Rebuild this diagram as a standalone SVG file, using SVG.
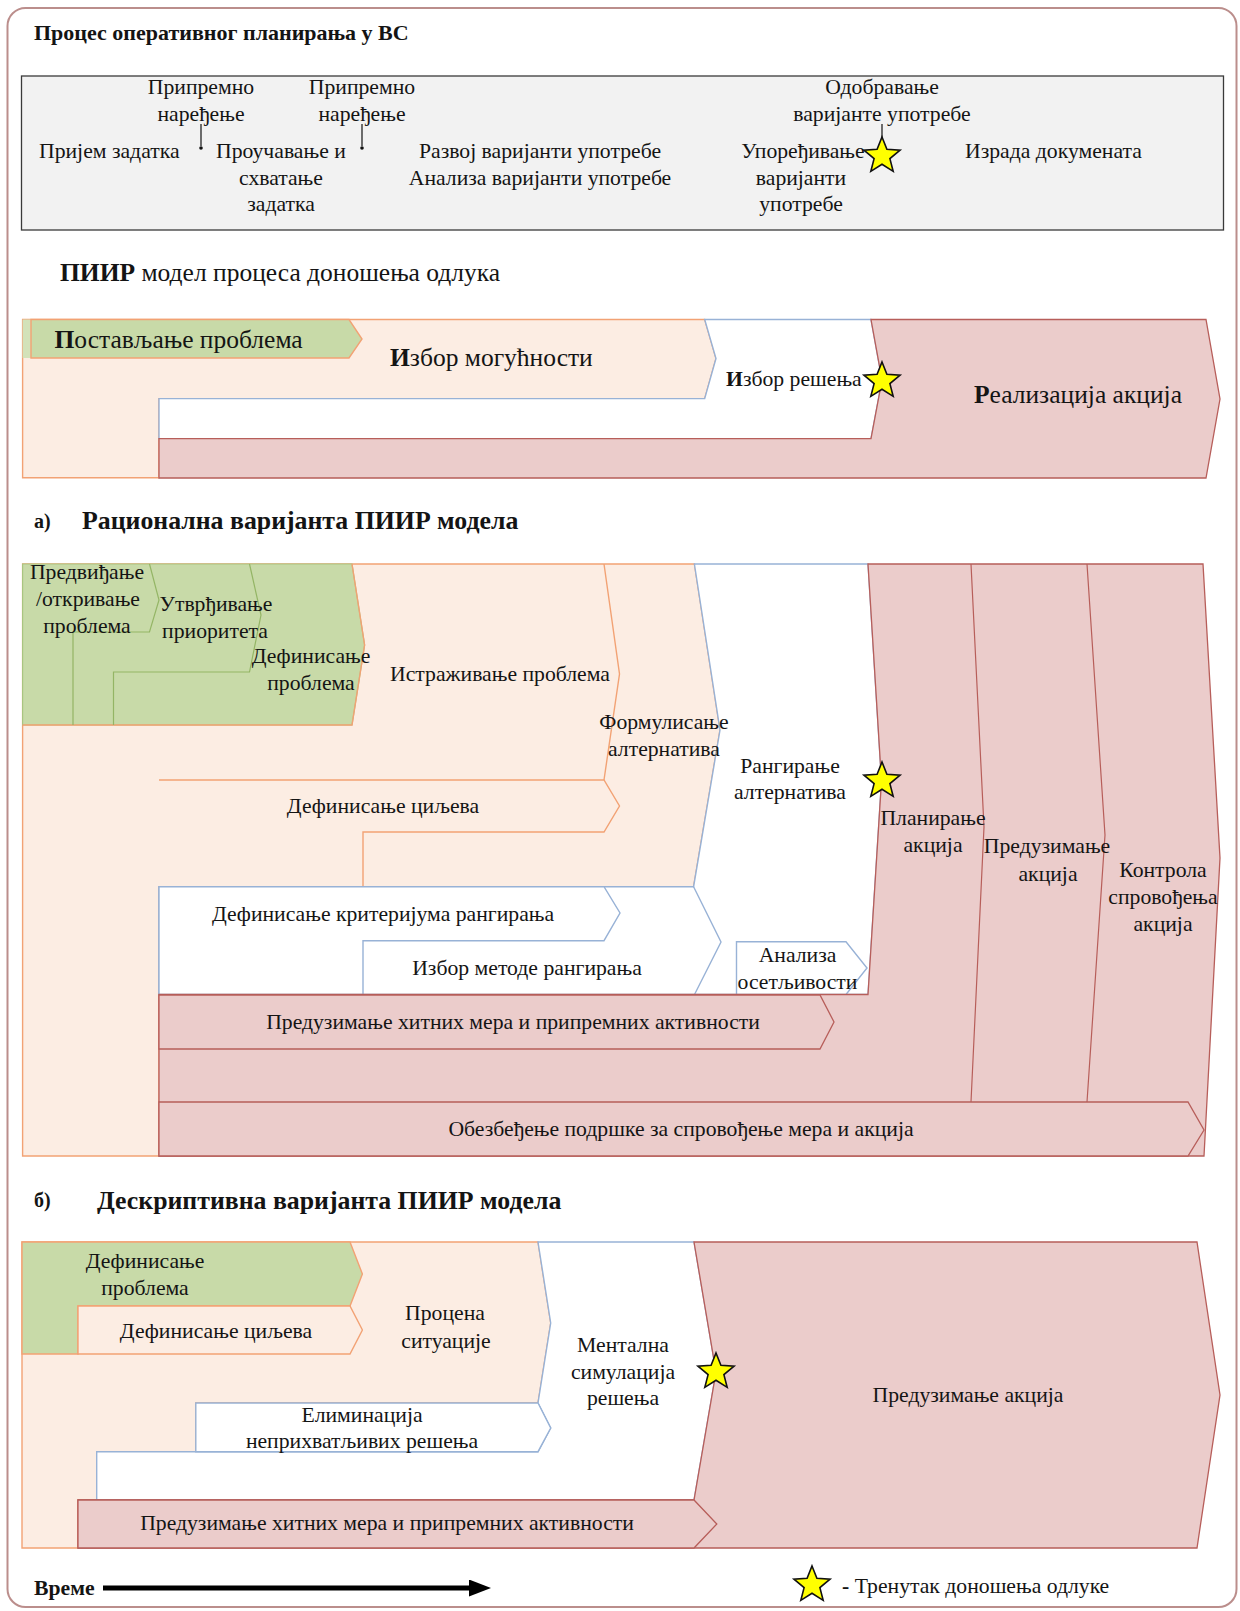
<svg xmlns="http://www.w3.org/2000/svg" xmlns:xlink="http://www.w3.org/1999/xlink" width="1240" height="1611" viewBox="0 0 1240 1611">
<style>
.t{font-family:"Liberation Serif","Times New Roman",serif;font-size:21.7px;fill:#141414}
.m{text-anchor:middle}
.b{font-weight:bold}
.h{font-size:25.5px}
.pe{fill:#fcede3;stroke:#f2a274;stroke-width:1.4}
.gr{fill:#c8daa8;stroke:#f2a274;stroke-width:1.4}
.gl{fill:none;stroke:#94b565;stroke-width:1.2}
.ol{fill:none;stroke:#f2a274;stroke-width:1.4}
.wh{fill:#ffffff;stroke:#98b2d6;stroke-width:1.4}
.bl{fill:none;stroke:#98b2d6;stroke-width:1.4}
.rd{fill:#ebcccb;stroke:#b75e5a;stroke-width:1.3}
.rl{fill:none;stroke:#b75e5a;stroke-width:1.2}
.st{fill:#ffff00;stroke:#111;stroke-width:1.6;stroke-linejoin:miter}
</style>
<defs>
<path id="star" d="M0,-19 L4.9,-6.7 L18.07,-5.87 L7.9,2.6 L11.17,15.37 L0,8.3 L-11.17,15.37 L-7.9,2.6 L-18.07,-5.87 L-4.9,-6.7 Z"/>
<marker id="ah" markerWidth="22" markerHeight="17" refX="1" refY="8.5" orient="auto" markerUnits="userSpaceOnUse">
<path d="M0,0 L22,8.5 L0,17 Z" fill="#000"/>
</marker>
</defs>
<rect x="7.5" y="8" width="1229" height="1599" rx="18" fill="#fff" stroke="#bb8e8c" stroke-width="2"/>

<g id="title">
<text class="t b" x="34" y="40" style="font-size:22px">Процес оперативног планирања у ВС</text>
</g>

<g id="process-box">
<rect x="21.5" y="76" width="1202" height="154" fill="#f2f2f2" stroke="#3a3a3a" stroke-width="1.3"/>
<text class="t m" x="201" y="94">Припремно</text>
<text class="t m" x="201" y="121">наређење</text>
<line x1="201" y1="124" x2="201" y2="146" stroke="#111" stroke-width="1.2"/>
<circle cx="201" cy="148" r="1.8" fill="#111"/>
<text class="t m" x="362" y="94">Припремно</text>
<text class="t m" x="362" y="121">наређење</text>
<line x1="362" y1="124" x2="362" y2="146" stroke="#111" stroke-width="1.2"/>
<circle cx="362" cy="148" r="1.8" fill="#111"/>
<text class="t" x="39" y="158">Пријем задатка</text>
<text class="t" x="216" y="158">Проучавање и</text>
<text class="t m" x="281" y="185">схватање</text>
<text class="t m" x="281" y="211">задатка</text>
<text class="t m" x="540" y="158">Развој варијанти употребе</text>
<text class="t m" x="540" y="185">Анализа варијанти употребе</text>
<text class="t m" x="882" y="94">Одобравање</text>
<text class="t m" x="882" y="121">варијанте употребе</text>
<line x1="882" y1="124" x2="882" y2="138" stroke="#111" stroke-width="1.2"/>
<text class="t m" x="803" y="158">Упоређивање</text>
<text class="t m" x="801" y="185">варијанти</text>
<text class="t m" x="801" y="211">употребе</text>
<use xlink:href="#star" href="#star" class="st" x="882" y="156"/>
<text class="t" x="965" y="158">Израда докумената</text>
</g>

<g id="piir-title">
<text class="t h" x="60" y="281"><tspan class="b">ПИИР</tspan> модел процеса доношења одлука</text>
</g>

<g id="piir-izbor-mogucnosti">
<polygon class="pe" points="22.6,319.5 704.7,319.5 716,358.5 704.7,398.6 159,398.6 159,477.7 22.6,477.7"/>
<text class="t h" x="390" y="366"><tspan class="b">И</tspan>збор могућности</text>
</g>
<g id="piir-postavljanje">
<rect x="22.6" y="319.5" width="10" height="38.5" fill="#d3e2b9"/>
<polygon class="gr" points="31,319.5 349,319.5 362,339 349,358 31,358"/>
<text class="t h" x="54.5" y="348"><tspan class="b">П</tspan>остављање проблема</text>
</g>
<g id="piir-izbor-resenja">
<polygon class="wh" points="704.7,319.5 871,319.5 882,380 871,438.6 159,438.6 159,398.6 704.7,398.6 716,358.5"/>
<text class="t" x="726" y="385.5"><tspan class="b">И</tspan>збор решења</text>
</g>
<g id="piir-realizacija">
<polygon class="rd" points="871,319.5 1206,319.5 1220,399 1206,478 159,478 159,438.6 871,438.6 882,380"/>
<text class="t h" x="974" y="403"><tspan class="b">Р</tspan>еализација акција</text>
</g>
<use xlink:href="#star" href="#star" class="st" x="882" y="381"/>

<g id="a-title">
<text class="t b" x="34" y="528" style="font-size:20px">а)</text>
<text class="t b" x="82" y="529" style="font-size:25.8px">Рационална варијанта ПИИР модела</text>
</g>

<g id="a-istrazivanje">
<polygon class="pe" points="22.6,564 694.4,564 720,730 693.6,886.7 159,886.7 159,1156 22.6,1156"/>
<polyline class="ol" points="604,564 619.5,674 604,780"/>
<text class="t m" x="500" y="681">Истраживање проблема</text>
</g>
<g id="a-definisanje-ciljeva">
<polyline class="ol" points="159,780 604,780 619.5,806 604,832 363,832 363,886.7"/>
<text class="t m" x="383" y="813">Дефинисање циљева</text>
</g>
<g id="a-green">
<polygon points="22.6,564 352,564 364.6,645 352,725 22.6,725" fill="#c8daa8" stroke="#a9c580" stroke-width="1.2"/>
<polyline class="ol" points="22.6,725 352,725 364.6,645 352,564"/>
<polyline class="gl" points="149.5,564 159,600 149.5,632 73,632 73,725"/>
<polyline class="gl" points="249.5,564 261,615 249.5,672 113.5,672 113.5,725"/>
<text class="t m" x="87" y="579">Предвиђање</text>
<text class="t m" x="88" y="606">/откривање</text>
<text class="t m" x="87" y="633">проблема</text>
<text class="t m" x="216" y="611">Утврђивање</text>
<text class="t m" x="215" y="638">приоритета</text>
<text class="t m" x="311" y="663">Дефинисање</text>
<text class="t m" x="311" y="690">проблема</text>
</g>
<g id="a-rangiranje">
<polygon class="wh" points="694.4,564 868,564 881.5,781 868,994.5 159,994.5 159,886.7 693.6,886.7 720,730"/>
<text class="t m" x="790" y="773">Рангирање</text>
<text class="t m" x="790" y="799">алтернатива</text>
</g>
<g id="a-formulisanje">
<text class="t m" x="664" y="729">Формулисање</text>
<text class="t m" x="664" y="756">алтернатива</text>
</g>
<g id="a-kriterijumi">
<polygon class="wh" points="159,886.7 604,886.7 620,913 604,940.7 363,940.7 363,994.5 159,994.5"/>
<text class="t m" x="383" y="921">Дефинисање критеријума рангирања</text>
</g>
<g id="a-metod">
<polyline class="bl" points="693.6,886.7 721,942 694.5,994.5"/>
<text class="t m" x="527" y="975">Избор методе рангирања</text>
</g>
<g id="a-analiza">
<polygon class="wh" points="736.5,941.7 846,941.7 867,968 846,994.5 736.5,994.5"/>
</g>
<g id="a-akcije">
<polygon class="rd" points="868,564 1203,564 1220,858 1204,1156 159,1156 159,994.5 868,994.5 881.5,781"/>
<polyline class="rl" points="971,564 984,827 971,1102"/>
<polyline class="rl" points="1087,564 1105,835 1087,1102"/>
<text class="t m" x="933" y="825">Планирање</text>
<text class="t m" x="933" y="852">акција</text>
<text class="t m" x="1047" y="853">Предузимање</text>
<text class="t m" x="1048" y="881">акција</text>
<text class="t m" x="1163" y="877">Контрола</text>
<text class="t m" x="1163" y="904">спровођења</text>
<text class="t m" x="1163" y="931">акција</text>
</g>
<g id="a-hitne-mere">
<polygon class="rd" points="159,995 820,995 834,1022 820,1049 159,1049"/>
<text class="t m" x="513" y="1029">Предузимање хитних мера и припремних активности</text>
</g>
<g id="a-podrska">
<polygon class="rd" points="159,1102 1188,1102 1204,1130 1188,1156 159,1156"/>
<text class="t m" x="681" y="1136">Обезбеђење подршке за спровођење мера и акција</text>
</g>
<g id="a-analiza-label">
<text class="t m" x="797.5" y="962">Анализа</text>
<text class="t m" x="797.5" y="988.5">осетљивости</text>
</g>
<use xlink:href="#star" href="#star" class="st" x="882" y="781"/>

<g id="b-title">
<text class="t b" x="34" y="1207" style="font-size:20px">б)</text>
<text class="t b" x="97" y="1209" style="font-size:25.8px">Дескриптивна варијанта ПИИР модела</text>
</g>
<g id="b-procena">
<polygon class="pe" points="22,1242 538,1242 550.7,1323 538,1403 195.8,1403 195.8,1451.7 96.7,1451.7 96.7,1500 78,1500 78,1548 22,1548"/>
<text class="t m" x="445" y="1320">Процена</text>
<text class="t m" x="446" y="1348">ситуације</text>
</g>
<g id="b-definisanje-problema">
<polygon class="gr" points="22,1242 350,1242 362.4,1274 350,1306 78,1306 78,1354 22,1354"/>
<text class="t m" x="145" y="1268">Дефинисање</text>
<text class="t m" x="145" y="1295">проблема</text>
</g>
<g id="b-definisanje-ciljeva">
<polygon class="pe" points="78,1306 350,1306 362.4,1330 350,1354 78,1354"/>
<text class="t m" x="216" y="1338">Дефинисање циљева</text>
</g>
<g id="b-simulacija">
<polygon class="wh" points="538,1242 694,1242 716,1372 694,1500 96.7,1500 96.7,1451.7 538,1451.7 550.7,1428 538,1403 550.7,1323"/>
<text class="t m" x="623" y="1352">Ментална</text>
<text class="t m" x="623" y="1378.5">симулација</text>
<text class="t m" x="623" y="1405">решења</text>
</g>
<g id="b-eliminacija">
<polygon class="wh" points="195.8,1403 538,1403 550.7,1428 538,1451.7 195.8,1451.7"/>
<text class="t m" x="362" y="1422">Елиминација</text>
<text class="t m" x="362" y="1448">неприхватљивих решења</text>
</g>
<g id="b-akcije">
<polygon class="rd" points="694,1242 1197,1242 1220,1395 1197,1548 78,1548 78,1500 694,1500 716,1372"/>
<text class="t m" x="968" y="1401.5">Предузимање акција</text>
</g>
<g id="b-hitne-mere">
<polygon class="rd" points="78,1500 694,1500 716.8,1524 694,1548 78,1548"/>
<text class="t m" x="387" y="1530">Предузимање хитних мера и припремних активности</text>
</g>
<use xlink:href="#star" href="#star" class="st" x="716" y="1372"/>

<g id="connectors">
<line x1="103" y1="1588" x2="470" y2="1588" stroke="#000" stroke-width="5" marker-end="url(#ah)"/>
</g>
<g id="legend">
<text class="t b" x="34" y="1595">Време</text>
<use xlink:href="#star" href="#star" class="st" x="812" y="1585"/>
<text class="t" x="842" y="1593"><tspan class="b">-</tspan> Тренутак доношења одлуке</text>
</g>
</svg>
